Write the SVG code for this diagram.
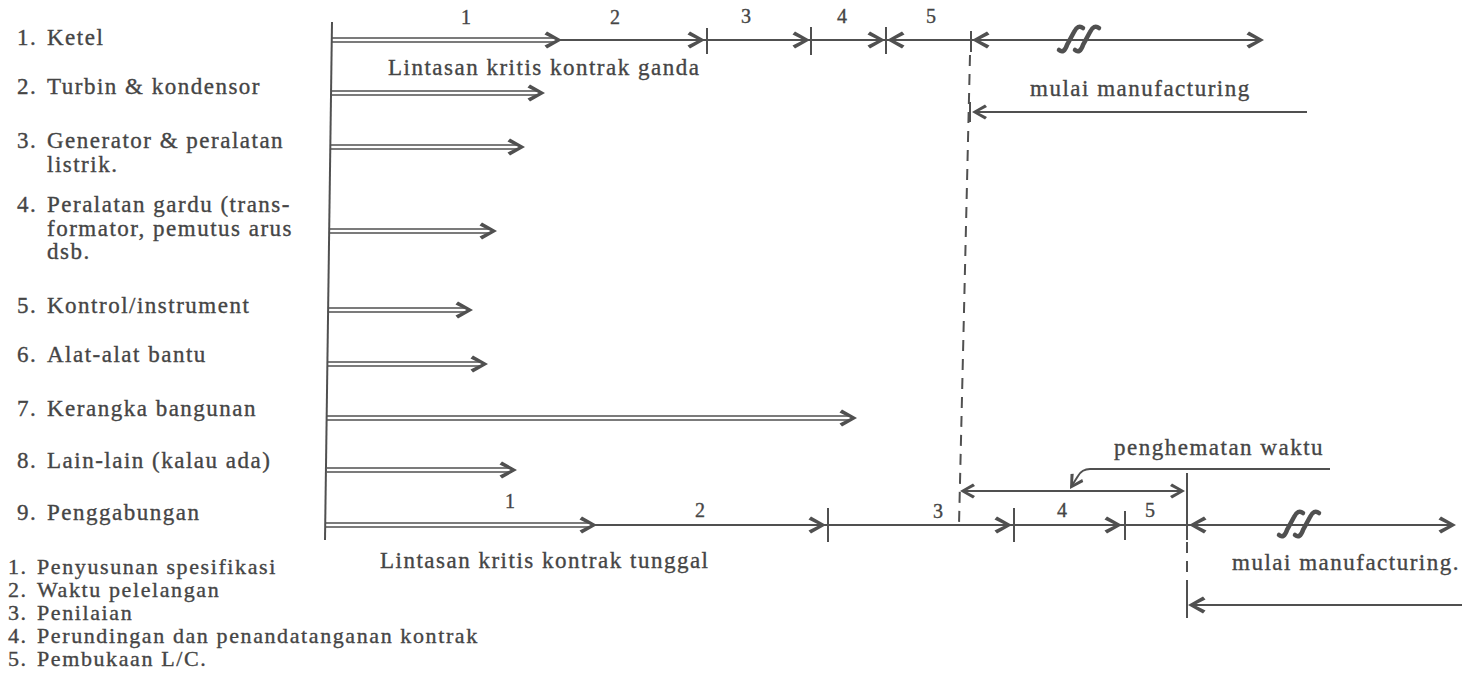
<svg xmlns="http://www.w3.org/2000/svg" xmlns:xlink="http://www.w3.org/1999/xlink" width="1466" height="685" viewBox="0 0 1466 685">
<style>
text{font-family:"Liberation Serif","Times New Roman",serif;fill:#454545;stroke:#454545;stroke-width:0.35px}
.lb{font-size:23px;letter-spacing:1.5px}
.lg{font-size:22px;letter-spacing:1.6px}
.nm{font-size:20px;text-anchor:middle}
.ln{stroke:#505050;stroke-width:2;fill:none}
.db{stroke:#505050;stroke-width:1.6;fill:none}
.tk{stroke:#505050;stroke-width:2;fill:none}
.ds{stroke:#505050;stroke-width:2;fill:none;stroke-dasharray:11 8}
.sq{stroke:#505050;stroke-width:4.5;fill:none;stroke-linecap:round}
.ah{fill:#505050}
</style>
<defs>
<path id="ah" class="ah" d="M0,0 L-15,-8.5 L-17.5,-5.5 L-6.5,0 L-17.5,5.5 L-15,8.5 Z"/>
<path id="ahs" class="ah" d="M0,0 L-13,-7.5 L-15,-5 L-5.5,0 L-15,5 L-13,7.5 Z"/>
<path id="sq" class="sq" d="M-13,11 Q-8,15 -5,6 L2,-7 Q6,-15 11,-11"/>
</defs>
<rect width="1466" height="685" fill="#fff"/>

<g id="equipment-labels">
<g id="row1"><text class="lb" x="17" y="45">1.</text><text class="lb" x="47" y="45">Ketel</text></g>
<g id="row2"><text class="lb" x="17" y="94">2.</text><text class="lb" x="47" y="94">Turbin &amp; kondensor</text></g>
<g id="row3"><text class="lb" x="17" y="148">3.</text><text class="lb" x="47" y="148">Generator &amp; peralatan</text><text class="lb" x="47" y="172">listrik.</text></g>
<g id="row4"><text class="lb" x="17" y="212">4.</text><text class="lb" x="47" y="212">Peralatan gardu (trans-</text><text class="lb" x="47" y="236">formator, pemutus arus</text><text class="lb" x="47" y="259">dsb.</text></g>
<g id="row5"><text class="lb" x="17" y="313">5.</text><text class="lb" x="47" y="313">Kontrol/instrument</text></g>
<g id="row6"><text class="lb" x="17" y="362">6.</text><text class="lb" x="47" y="362">Alat-alat bantu</text></g>
<g id="row7"><text class="lb" x="17" y="416">7.</text><text class="lb" x="47" y="416">Kerangka bangunan</text></g>
<g id="row8"><text class="lb" x="17" y="468">8.</text><text class="lb" x="47" y="468">Lain-lain (kalau ada)</text></g>
<g id="row9"><text class="lb" x="17" y="520">9.</text><text class="lb" x="47" y="520">Penggabungan</text></g>
</g>

<g id="legend">
<text class="lg" x="8" y="574">1.</text><text class="lg" x="37" y="574">Penyusunan spesifikasi</text>
<text class="lg" x="8" y="597">2.</text><text class="lg" x="37" y="597">Waktu pelelangan</text>
<text class="lg" x="8" y="620">3.</text><text class="lg" x="37" y="620">Penilaian</text>
<text class="lg" x="8" y="643">4.</text><text class="lg" x="37" y="643">Perundingan dan penandatanganan kontrak</text>
<text class="lg" x="8" y="666">5.</text><text class="lg" x="37" y="666">Pembukaan L/C.</text>
</g>

<g id="axis">
<line class="ln" x1="332" y1="22" x2="325" y2="540"/>
</g>

<g id="connectors">
<path class="db" d="M331,38 H557 M331,42 H557"/><use xlink:href="#ah" x="562" y="40"/>
<path class="db" d="M331,91 H540 M331,95 H540"/><use xlink:href="#ah" x="545" y="93"/>
<path class="db" d="M331,145 H520 M331,149 H520"/><use xlink:href="#ah" x="525" y="147"/>
<path class="db" d="M330,229 H492 M330,233 H492"/><use xlink:href="#ah" x="497" y="231"/>
<path class="db" d="M329,308 H468 M329,312 H468"/><use xlink:href="#ah" x="473" y="310"/>
<path class="db" d="M328,362 H483 M328,366 H483"/><use xlink:href="#ah" x="488" y="364"/>
<path class="db" d="M327,416 H852 M327,420 H852"/><use xlink:href="#ah" x="857" y="418"/>
<path class="db" d="M327,468 H512 M327,472 H512"/><use xlink:href="#ah" x="517" y="470"/>
</g>

<g id="timeline-ganda">
<line class="ln" x1="556" y1="40" x2="1262" y2="40"/>
<use xlink:href="#ah" x="705" y="40"/>
<use xlink:href="#ah" x="810" y="40"/>
<use xlink:href="#ah" x="885" y="40"/>
<use xlink:href="#ah" transform="translate(887,40) scale(-1,1)"/>
<use xlink:href="#ah" transform="translate(972,40) scale(-1,1)"/>
<use xlink:href="#ah" x="1264" y="40"/>
<line class="tk" x1="707" y1="28" x2="707" y2="54"/>
<line class="tk" x1="811" y1="27" x2="811" y2="55"/>
<line class="tk" x1="886" y1="27" x2="886" y2="54"/>
<line class="tk" x1="971" y1="31" x2="971" y2="52"/>
<use xlink:href="#sq" x="1072" y="39"/>
<use xlink:href="#sq" x="1088" y="39"/>
<text class="nm" x="466" y="24">1</text>
<text class="nm" x="615" y="24">2</text>
<text class="nm" x="746" y="23">3</text>
<text class="nm" x="842" y="23">4</text>
<text class="nm" x="931" y="23">5</text>
<text class="lb" x="388" y="75">Lintasan kritis kontrak ganda</text>
<text class="lb" x="1030" y="96">mulai manufacturing</text>
<line class="ln" x1="974" y1="112" x2="1307" y2="112"/>
<use xlink:href="#ahs" transform="translate(972,112) scale(-1,1)"/>
<line class="tk" x1="970" y1="102" x2="970" y2="122"/>
<line class="ds" x1="970" y1="55" x2="959" y2="525"/>
</g>

<g id="timeline-tunggal">
<path class="db" d="M325,523 H592 M325,527 H592"/><use xlink:href="#ah" x="597" y="525"/>
<line class="ln" x1="591" y1="525" x2="1453" y2="525"/>
<use xlink:href="#ah" x="826" y="525"/>
<use xlink:href="#ah" x="1012" y="525"/>
<use xlink:href="#ah" x="1122" y="525"/>
<use xlink:href="#ah" transform="translate(1189,525) scale(-1,1)"/>
<use xlink:href="#ah" x="1456" y="525"/>
<line class="tk" x1="828" y1="508" x2="828" y2="542"/>
<line class="tk" x1="1014" y1="508" x2="1014" y2="542"/>
<line class="tk" x1="1125" y1="511" x2="1125" y2="540"/>
<line class="tk" x1="1187" y1="510" x2="1187" y2="540"/>
<line class="tk" x1="1187" y1="473" x2="1187" y2="502"/>
<line class="ds" x1="1187" y1="502" x2="1187" y2="510"/>
<line class="ds" x1="1187" y1="542" x2="1187" y2="590"/>
<line class="tk" x1="1187" y1="590" x2="1187" y2="618"/>
<use xlink:href="#sq" x="1292" y="524"/>
<use xlink:href="#sq" x="1308" y="524"/>
<text class="nm" x="510" y="508">1</text>
<text class="nm" x="700" y="517">2</text>
<text class="nm" x="938" y="518">3</text>
<text class="nm" x="1062" y="517">4</text>
<text class="nm" x="1150" y="517">5</text>
<text class="lb" x="380" y="568">Lintasan kritis kontrak tunggal</text>
<text class="lb" x="1232" y="570">mulai manufacturing.</text>
<line class="ln" x1="1190" y1="605" x2="1462" y2="605"/>
<use xlink:href="#ah" transform="translate(1188,605) scale(-1,1)"/>
</g>

<g id="penghematan">
<text class="lb" x="1114" y="455">penghematan waktu</text>
<line class="ln" x1="962" y1="491" x2="1183" y2="491"/>
<use xlink:href="#ahs" transform="translate(960,491) scale(-1,1)"/>
<use xlink:href="#ahs" x="1185" y="491"/>
<path class="ln" d="M1330,469 H1090 Q1082,469 1078,476 L1071,487"/>
<use xlink:href="#ahs" transform="translate(1070,489) rotate(122)"/>
</g>
</svg>
